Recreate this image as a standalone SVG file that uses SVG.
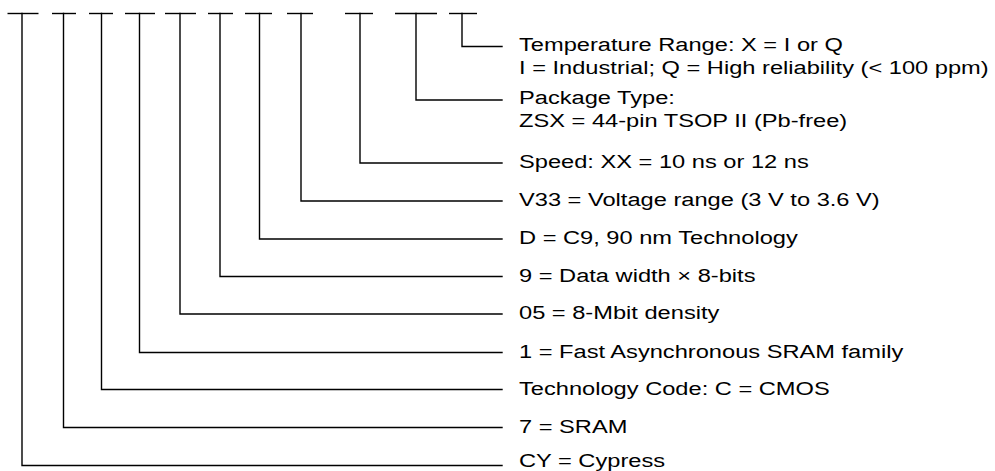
<svg xmlns="http://www.w3.org/2000/svg" width="995" height="471" viewBox="0 0 995 471">
<style>
.bar{stroke:#000;stroke-width:1.4;fill:none}
.conn{stroke:#000;stroke-width:1.4;fill:none;stroke-linecap:square;stroke-linejoin:miter}
.lbl{font-family:"Liberation Sans",Arial,sans-serif;font-size:19px;fill:#000}
</style>
<rect width="995" height="471" fill="#fff"/>
<g id="segments">
<g id="seg-cy"><line class="bar" x1="7.5" y1="13.5" x2="38.5" y2="13.5"/></g>
<g id="seg-7"><line class="bar" x1="52" y1="13.5" x2="76" y2="13.5"/></g>
<g id="seg-c"><line class="bar" x1="89" y1="13.5" x2="113" y2="13.5"/></g>
<g id="seg-1"><line class="bar" x1="125" y1="13.5" x2="155" y2="13.5"/></g>
<g id="seg-05"><line class="bar" x1="165" y1="13.5" x2="196" y2="13.5"/></g>
<g id="seg-9"><line class="bar" x1="208" y1="13.5" x2="233" y2="13.5"/></g>
<g id="seg-d"><line class="bar" x1="245" y1="13.5" x2="272" y2="13.5"/></g>
<g id="seg-v33"><line class="bar" x1="287" y1="13.5" x2="313" y2="13.5"/></g>
<g id="seg-xx"><line class="bar" x1="345" y1="13.5" x2="373" y2="13.5"/></g>
<g id="seg-zsx"><line class="bar" x1="395" y1="13.5" x2="437" y2="13.5"/></g>
<g id="seg-x"><line class="bar" x1="449" y1="13.5" x2="477" y2="13.5"/></g>
</g>
<g id="connectors">
<path class="conn" d="M462 13.5 V46.5 H502"/>
<path class="conn" d="M416 13.5 V100 H502"/>
<path class="conn" d="M360 13.5 V163 H502"/>
<path class="conn" d="M301 13.5 V201 H502"/>
<path class="conn" d="M259.5 13.5 V239 H502"/>
<path class="conn" d="M220 13.5 V276.5 H502"/>
<path class="conn" d="M180 13.5 V314 H502"/>
<path class="conn" d="M139.5 13.5 V352.5 H502"/>
<path class="conn" d="M101.5 13.5 V389.5 H502"/>
<path class="conn" d="M63.5 13.5 V427.5 H502"/>
<path class="conn" d="M22 13.5 V465.5 H502"/>
</g>
<g id="labels" transform="translate(519 0) scale(1.245 1)">
<g id="label-x"><text class="lbl" x="0" y="51.5">Temperature Range: X = I or Q</text><text class="lbl" x="0" y="74.5">I = Industrial; Q = High reliability (&lt; 100 ppm)</text></g>
<g id="label-zsx"><text class="lbl" x="0" y="104.5">Package Type:</text><text class="lbl" x="0" y="127.5">ZSX = 44-pin TSOP II (Pb-free)</text></g>
<g id="label-xx"><text class="lbl" x="0" y="168.5">Speed: XX = 10 ns or 12 ns</text></g>
<g id="label-v33"><text class="lbl" x="0" y="206.5">V33 = Voltage range (3 V to 3.6 V)</text></g>
<g id="label-d"><text class="lbl" x="0" y="244.5">D = C9, 90 nm Technology</text></g>
<g id="label-9"><text class="lbl" x="0" y="282">9 = Data width × 8-bits</text></g>
<g id="label-05"><text class="lbl" x="0" y="319.5">05 = 8-Mbit density</text></g>
<g id="label-1"><text class="lbl" x="0" y="358">1 = Fast Asynchronous SRAM family</text></g>
<g id="label-c"><text class="lbl" x="0" y="395">Technology Code: C = CMOS</text></g>
<g id="label-7"><text class="lbl" x="0" y="433">7 = SRAM</text></g>
<g id="label-cy"><text class="lbl" x="0" y="467">CY = Cypress</text></g>
</g>
</svg>
